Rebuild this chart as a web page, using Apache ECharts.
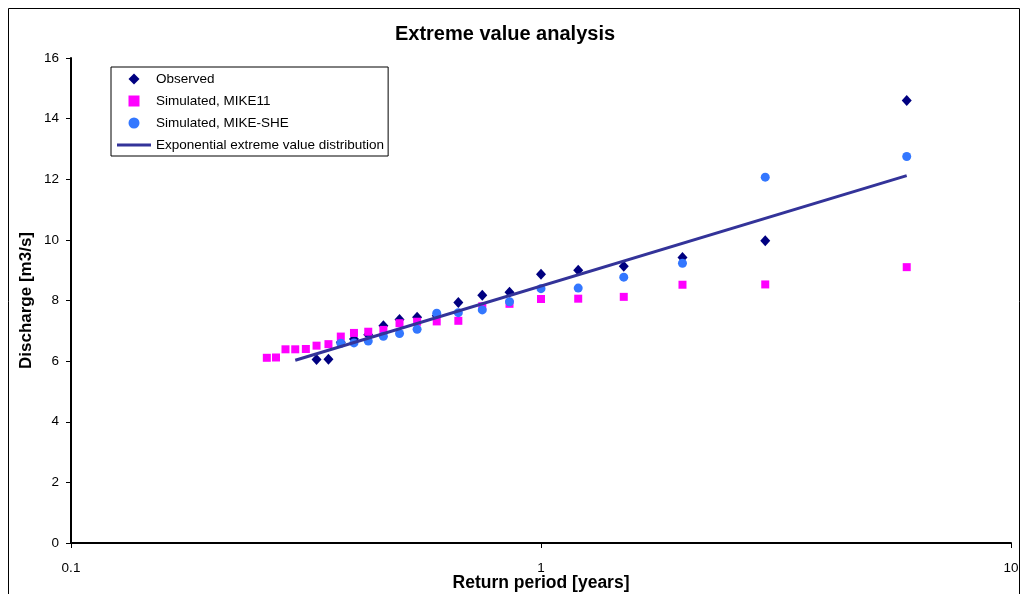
<!DOCTYPE html>
<html>
<head>
<meta charset="utf-8">
<script src="https://cdn.jsdelivr.net/npm/echarts@6/dist/echarts.min.js"></script>
<style>
html,body{margin:0;padding:0;background:#fff;}
#chart{width:1023px;height:594px;}
</style>
</head>
<body>
<div id="chart"></div>
<script>
// Return periods [years] (plotting positions)
const periodsObserved = [6, 3, 2, 1.5, 1.2, 1, 0.857, 0.75, 0.667, 0.6, 0.545, 0.5, 0.462, 0.429, 0.4, 0.375, 0.353, 0.333];
const observed = [14.6, 9.97, 9.42, 9.13, 9.0, 8.87, 8.27, 8.17, 7.93, 7.5, 7.45, 7.37, 7.17, 6.87, 6.73, 6.62, 6.06, 6.05];

const periodsMike11 = [6, 3, 2, 1.5, 1.2, 1, 0.857, 0.75, 0.667, 0.6, 0.545, 0.5, 0.462, 0.429, 0.4, 0.375, 0.353, 0.333, 0.316, 0.3, 0.286, 0.273, 0.261];
const mike11 = [9.1, 8.53, 8.52, 8.12, 8.06, 8.05, 7.89, 7.81, 7.33, 7.31, 7.3, 7.25, 7.03, 6.97, 6.93, 6.81, 6.56, 6.51, 6.4, 6.39, 6.39, 6.12, 6.11];

const periodsMikeShe = [6, 3, 2, 1.5, 1.2, 1, 0.857, 0.75, 0.667, 0.6, 0.545, 0.5, 0.462, 0.429, 0.4, 0.375];
const mikeShe = [12.75, 12.07, 9.23, 8.77, 8.41, 8.39, 7.96, 7.69, 7.6, 7.58, 7.05, 6.91, 6.82, 6.66, 6.6, 6.59];

const periodsFit = [0.3, 6];
const fitted = [6.03, 12.12];

const yTicks = [0, 2, 4, 6, 8, 10, 12, 14, 16];
const xTicks = [0.1, 1, 10];

const pairs = (xs, ys) => xs.map((x, i) => [x, ys[i]]);

const chart = echarts.init(document.getElementById('chart'));
const FONT = '"Liberation Sans", Arial, sans-serif';

chart.setOption({
  animation: false,
  backgroundColor: '#fff',
  textStyle: { fontFamily: FONT, color: '#000' },
  title: {
    text: 'Extreme value analysis',
    left: 500,
    textAlign: 'center',
    top: 19,
    textStyle: { fontFamily: FONT, fontSize: 20, fontWeight: 'bold', color: '#000' }
  },
  graphic: [{
    type: 'rect',
    shape: { x: 8.5, y: 8.5, width: 1011, height: 600 },
    style: { fill: 'none', stroke: '#000', lineWidth: 1 },
    silent: true
  }],
  legend: {
    orient: 'vertical',
    left: 111,
    top: 67,
    padding: [5, 4, 4, 6],
    itemGap: 8,
    itemWidth: 34,
    itemHeight: 11,
    symbolKeepAspect: true,
    borderColor: '#000',
    borderWidth: 1,
    backgroundColor: '#fff',
    textStyle: { fontFamily: FONT, fontSize: 13.5, color: '#000' },
    data: [
      { name: 'Observed', icon: 'path://M5,0 L10,5 L5,10 L0,5 Z' },
      { name: 'Simulated, MIKE11', icon: 'path://M0,0 L8,0 L8,8 L0,8 Z' },
      { name: 'Simulated, MIKE-SHE', icon: 'circle' },
      { name: 'Exponential extreme value distribution', icon: 'path://M0,0 L34,0 L34,3 L0,3 Z' }
    ]
  },
  grid: { left: 71, right: 12, top: 58, bottom: 51, containLabel: false, outerBoundsMode: 'none' },
  xAxis: {
    type: 'log',
    logBase: 10,
    min: xTicks[0],
    max: xTicks[xTicks.length - 1],
    name: 'Return period [years]',
    nameLocation: 'middle',
    nameGap: 31,
    nameMoveOverlap: false,
    nameTextStyle: { fontFamily: FONT, fontSize: 17.5, fontWeight: 'bold', color: '#000' },
    axisLine: { onZero: false, lineStyle: { color: '#000', width: 2 } },
    axisTick: { show: true, length: 5, lineStyle: { color: '#000', width: 1 } },
    axisLabel: {
      margin: 18,
      fontFamily: FONT, fontSize: 13.5, color: '#000',
      formatter: v => String(+v.toPrecision(6))
    },
    splitLine: { show: false },
    minorTick: { show: false }
  },
  yAxis: {
    type: 'value',
    min: yTicks[0],
    max: yTicks[yTicks.length - 1],
    interval: 2,
    name: 'Discharge [m3/s]',
    nameLocation: 'middle',
    nameGap: 36,
    nameMoveOverlap: false,
    nameTextStyle: { fontFamily: FONT, fontSize: 17, fontWeight: 'bold', color: '#000' },
    axisLine: { show: true, lineStyle: { color: '#000', width: 2 } },
    axisTick: { show: true, length: 5, lineStyle: { color: '#000', width: 1 } },
    axisLabel: { margin: 12, fontFamily: FONT, fontSize: 13.5, color: '#000' },
    splitLine: { show: false }
  },
  series: [
    {
      name: 'Observed',
      type: 'scatter',
      symbol: 'diamond',
      symbolSize: [10, 11],
      itemStyle: { color: '#000080', opacity: 1 },
      data: pairs(periodsObserved, observed)
    },
    {
      name: 'Simulated, MIKE11',
      type: 'scatter',
      symbol: 'rect',
      symbolSize: 8,
      itemStyle: { color: '#FF00FF', opacity: 1 },
      data: pairs(periodsMike11, mike11)
    },
    {
      name: 'Simulated, MIKE-SHE',
      type: 'scatter',
      symbol: 'circle',
      symbolSize: 9,
      itemStyle: { color: '#3377FF', opacity: 1 },
      data: pairs(periodsMikeShe, mikeShe)
    },
    {
      name: 'Exponential extreme value distribution',
      type: 'line',
      symbol: 'none',
      showSymbol: false,
      lineStyle: { color: '#333399', width: 3 },
      itemStyle: { color: '#333399' },
      data: pairs(periodsFit, fitted)
    }
  ]
});
</script>
</body>
</html>
